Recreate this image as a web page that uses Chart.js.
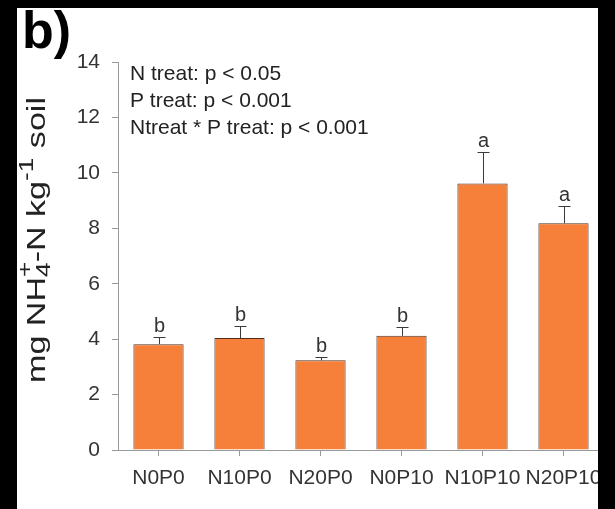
<!DOCTYPE html>
<html>
<head>
<meta charset="utf-8">
<script src="https://cdn.jsdelivr.net/npm/chart.js@4.4.0/dist/chart.umd.min.js"></script>
<style>
  html, body { margin: 0; padding: 0; background: #fff; }
  #wrap { width: 615px; height: 509px; position: relative; }
</style>
</head>
<body>
<div id="wrap"><canvas id="chart" width="615" height="509"></canvas></div>
<script>
// data
const categories = ['N0P0', 'N10P0', 'N20P0', 'N0P10', 'N10P10', 'N20P10'];
const means = [3.82, 4.04, 3.24, 4.12, 9.62, 8.18];
const errors = [0.27, 0.42, 0.13, 0.32, 1.12, 0.62];
const letters = ['b', 'b', 'b', 'b', 'a', 'a'];
const statLines = ['N treat: p < 0.05', 'P treat: p < 0.001', 'Ntreat * P treat: p < 0.001'];

const FONT = 'Liberation Sans, Arial, sans-serif';

// error bars, letters, stats text, y title, panel label, frame
const extras = {
  id: 'extras',
  afterDatasetsDraw(chart) {
    const { ctx, scales: { x, y } } = chart;
    ctx.save();
    ctx.strokeStyle = '#3a3a3a';
    ctx.lineWidth = 1;
    ctx.fillStyle = '#333';
    ctx.font = '20px ' + FONT;
    ctx.textAlign = 'center';
    ctx.textBaseline = 'alphabetic';
    means.forEach((m, i) => {
      const px = Math.round(x.getPixelForValue(i)) + 0.5;
      const yb = y.getPixelForValue(m);
      const yt = Math.round(y.getPixelForValue(m + errors[i])) + 0.5;
      ctx.beginPath();
      ctx.moveTo(px, yb);
      ctx.lineTo(px, yt);
      ctx.moveTo(px - 6, yt);
      ctx.lineTo(px + 6, yt);
      ctx.stroke();
      ctx.fillText(letters[i], px, yt - 6);
    });

    // stats text
    ctx.textAlign = 'left';
    ctx.textBaseline = 'middle';
    ctx.fillStyle = '#222';
    ctx.font = '21px ' + FONT;
    statLines.forEach((s, i) => ctx.fillText(s, 130, 74 + i * 27));

    // y title with sub/superscripts (stretched along its length like the scan)
    const parts = [
      { t: 'mg NH', s: 26, dy: 0 },
      { t: '4', s: 20, dy: 6, stackSup: '+' },
      { t: '-N kg', s: 26, dy: 0 },
      { t: '-1', s: 20, dy: -11 },
      { t: ' soil', s: 26, dy: 0 }
    ];
    let total = 0;
    parts.forEach(p => { ctx.font = p.s + 'px ' + FONT; p.w = ctx.measureText(p.t).width; total += p.w; });
    ctx.translate(38, 240);
    ctx.rotate(-Math.PI / 2);
    ctx.scale(286 / total, 1);
    ctx.textBaseline = 'middle';
    ctx.fillStyle = '#222';
    let cx = -total / 2;
    parts.forEach(p => {
      ctx.font = p.s + 'px ' + FONT;
      ctx.fillText(p.t, cx, p.dy);
      if (p.stackSup) ctx.fillText(p.stackSup, cx, -12);
      cx += p.w;
    });
    ctx.restore();

    // frame + panel label
    ctx.save();
    ctx.fillStyle = '#000';
    ctx.fillRect(0, 0, 615, 8);
    ctx.fillRect(0, 0, 17, 509);
    ctx.fillRect(598, 0, 17, 509);
    ctx.font = 'bold 52px ' + FONT;
    ctx.textAlign = 'left';
    ctx.textBaseline = 'alphabetic';
    ctx.fillText('b)', 22, 48);
    ctx.restore();
  }
};

new Chart(document.getElementById('chart'), {
  type: 'bar',
  data: {
    labels: categories,
    datasets: [{
      data: means,
      backgroundColor: '#f6803a',
      borderColor: '#4f3020',
      borderWidth: 1,
      borderSkipped: 'bottom',
      categoryPercentage: 1,
      barPercentage: 0.62
    }]
  },
  options: {
    responsive: false,
    devicePixelRatio: 1,
    animation: false,
    layout: { padding: { top: 62, right: 11, left: 0, bottom: 0 } },
    plugins: { legend: { display: false }, tooltip: { enabled: false } },
    scales: {
      x: {
        grid: { drawOnChartArea: false, offset: false, tickLength: 6, color: '#999' },
        border: { color: '#999' },
        ticks: { color: '#333', font: { size: 21, family: FONT }, padding: 10, maxRotation: 0, autoSkip: false },
        afterFit(s) { s.height = 59; }
      },
      y: {
        min: 0,
        max: 14,
        grid: { drawOnChartArea: false, tickLength: 6, color: '#999' },
        border: { color: '#999' },
        ticks: { stepSize: 2, color: '#333', font: { size: 21, family: FONT }, padding: 12 },
        afterFit(s) { s.width = 118; }
      }
    }
  },
  plugins: [extras]
});
</script>
</body>
</html>
